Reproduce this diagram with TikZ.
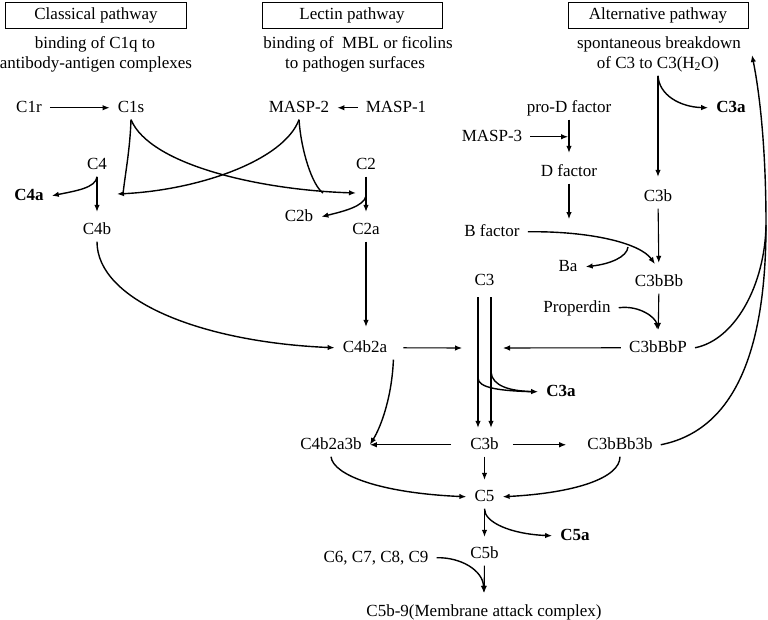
\documentclass[tikz,border=0pt]{standalone}
\usepackage{fontspec}
\setmainfont{Liberation Serif}
\usetikzlibrary{arrows.meta}
\begin{document}
\begin{tikzpicture}[x=1pt,y=-1pt,
  every node/.style={font=\fontsize{17}{20}\selectfont},
  lbl/.style={anchor=base, text height=12pt, text depth=3.5pt, inner xsep=8pt, inner ysep=4pt},
  bl/.style={lbl, font=\fontsize{17}{20}\selectfont\bfseries},
  pbox/.style={draw, line width=0.8pt, minimum height=26pt, text height=11pt, text depth=2pt, inner sep=0pt},
  ar/.style={line width=1.1pt, -{Latex[length=7pt,width=5.5pt]}},
  va/.style={ar, shorten >=6pt},
  cv/.style={line width=1.4pt, -{Latex[length=7pt,width=5.5pt]}},
  cl/.style={line width=1.4pt}]
\path[use as bounding box] (0,0) rectangle (768,619);

% headers
\node[pbox, minimum width=181pt] (cpb) at (96,15) {Classical pathway};
\node[pbox, minimum width=180pt] (lpb) at (352,15) {Lectin pathway};
\node[pbox, minimum width=180pt] (apb) at (658,15) {Alternative pathway};
\node[lbl] (cd1) at (95,48) {binding of C1q to};
\node[lbl] (cd2) at (96,68) {antibody-antigen complexes};
\node[lbl] (ld1) at (358,48) {binding of\ \ MBL or ficolins};
\node[lbl] (ld2) at (355,68) {to pathogen surfaces};
\node[lbl] (ad1) at (659,48) {spontaneous breakdown};
\node[lbl] (ad2) at (658,68) {of C3 to C3(H\textsubscript{2}O)};

% labels
\node[lbl] (c1r) at (29,112) {C1r};
\node[lbl] (c1s) at (131,112) {C1s};
\node[lbl] (masp2) at (299,112) {MASP-2};
\node[lbl] (masp1) at (396,112) {MASP-1};
\node[lbl] (prod) at (569,112) {pro-D factor};
\node[bl] (c3a1) at (731,112) {C3a};
\node[lbl] (masp3) at (492,141) {MASP-3};
\node[lbl] (c4) at (97,169) {C4};
\node[lbl] (c2) at (366,169) {C2};
\node[lbl] (dfac) at (569,176) {D factor};
\node[bl] (c4a) at (29,200) {C4a};
\node[lbl] (c3balt) at (658,201) {C3b};
\node[lbl] (c2b) at (299,221) {C2b};
\node[lbl] (c4b) at (97,234) {C4b};
\node[lbl] (c2a) at (366,234) {C2a};
\node[lbl] (bfac) at (492,236) {B factor};
\node[lbl] (ba) at (568,271) {Ba};
\node[lbl] (c3) at (484.5,285) {C3};
\node[lbl] (c3bbb) at (659,286) {C3bBb};
\node[lbl] (prop) at (577,312) {Properdin};
\node[lbl] (c4b2a) at (365,352) {C4b2a};
\node[lbl] (c3bbbp) at (658,352) {C3bBbP};
\node[bl] (c3a2) at (561,396) {C3a};
\node[lbl] (c4b2a3b) at (331,449) {C4b2a3b};
\node[lbl] (c3b) at (484.5,449) {C3b};
\node[lbl] (c3bbb3b) at (620,449) {C3bBb3b};
\node[lbl] (c5) at (484.5,501) {C5};
\node[bl] (c5a) at (575,540) {C5a};
\node[lbl] (c5b) at (484.5,558) {C5b};
\node[lbl] (c69) at (376,562) {C6, C7, C8, C9};
\node[lbl] (mac) at (484,616) {C5b-9(Membrane attack complex)};

% free ends
\coordinate (c2m) at (366,196);
\coordinate (c2cut) at (356,193);
\coordinate (c4cut) at (117,194);
\coordinate (dhit) at (569,219);
\coordinate (bsplit) at (628,247);
\coordinate (c3bl) at (478,378);
\coordinate (c3br) at (491,372);
\coordinate (c3hitL) at (462,348);
\coordinate (c3hitR) at (503,348);
\coordinate (rj) at (766,225);
\coordinate (alttip) at (752,55);

% classical / lectin
\draw[ar] (c1r) -- (c1s);
\draw[ar] (masp1) -- (masp2);
\draw[va] (c4) -- (c4b);
\draw[cv] (c4.south) .. controls (96,188) and (75,191) .. (c4a.east);
\draw[va] (c2) -- (c2a);
\draw[cv] (c2m) .. controls (364,206) and (345,211) .. (c2b.east);
\draw[cl] (c1s.south) .. controls (130,150) and (125,175) .. ([xshift=6pt]c4cut);
\draw[cv] (masp2.south) .. controls (284,160) and (200,190) .. (c4cut);
\draw[cv] (c1s.south) .. controls (150,165) and (260,190) .. (c2cut);
\draw[cl] (masp2.south) .. controls (301,150) and (312,185) .. ([xshift=-33pt]c2cut);
\draw[cv] (c4b.south) .. controls (97,300) and (200,342) .. (c4b2a.west);
\draw[va, shorten >=9pt] (c2a) -- (c2a |- c4b2a.north);

% alternative
\draw[ar, shorten >=1pt] (masp3.east) -- (masp3.east -| prod);
\draw[va, shorten >=7pt] (prod) -- (dfac);
\draw[ar] (dfac.south) -- (dhit);
\draw[va, shorten >=8pt] (ad2.south -| c3balt) -- (c3balt.north);
\draw[cv] (ad2.south -| c3balt) .. controls (659,95) and (680,107) .. (c3a1.west);
\draw[va, shorten >=7pt] (c3balt) -- (c3bbb);
\draw[cv, shorten >=7pt] (bfac.east) .. controls (590,231) and (640,243) .. (c3bbb.north);
\draw[cv] (bsplit) .. controls (627,257) and (610,264) .. (ba.east);
\draw[va] (c3bbb) -- (c3bbbp);
\draw[cv, shorten >=6pt] (prop.east) .. controls (640,305) and (656,318) .. (c3bbbp.north);
\draw[ar] (c3bbbp.west) -- (c3hitR);
\draw[ar, shorten <=8pt] (c4b2a.east) -- (c3hitL);

% C3 cleavage
\draw[ar, shorten <=4.5pt, shorten >=5pt] ([xshift=-6.5pt]c3.south) -- ([xshift=-6.5pt]c3b.north);
\draw[ar, shorten <=4.5pt, shorten >=5pt] ([xshift=6.5pt]c3.south) -- ([xshift=6.5pt]c3b.north);
\draw[cl] (c3bl) .. controls (478,388) and (500,391) .. ([xshift=-3pt]c3a2.west);
\draw[cv] (c3br) .. controls (492,386) and (510,391) .. (c3a2.west);
\draw[cv] ([xshift=-2pt]c4b2a.south east) .. controls (392,395) and (382,425) .. (c4b2a3b.east);
\draw[ar, shorten <=11pt] (c3b.west) -- (c4b2a3b.east);
\draw[ar, shorten <=6pt, shorten >=13pt] (c3b.east) -- (c3bbb3b.west);

% C5
\draw[va, shorten >=5pt] (c3b) -- (c5);
\draw[cv] (c4b2a3b.south) .. controls (333,475) and (380,493) .. (c5.west);
\draw[cv] (c3bbb3b.south) .. controls (620,478) and (575,493) .. (c5.east);
\draw[va, shorten >=5pt] (c5) -- (c5b);
\draw[cv] (c5.south) .. controls (484,522) and (510,534) .. (c5a.west);
\draw[va, shorten >=7pt] (c5b) -- (mac);
\draw[cv, shorten >=7pt] (c69.east) .. controls (460,557) and (483,570) .. (mac.north);

% feedback to top
\draw[cl] (c3bbbp.east) .. controls (735,340) and (765,285) .. (rj);
\draw[cv] (c3bbb3b.east) .. controls (735,430) and (766,350) .. (rj) .. controls (766,150) and (760,95) .. (alttip);
\end{tikzpicture}
\end{document}
